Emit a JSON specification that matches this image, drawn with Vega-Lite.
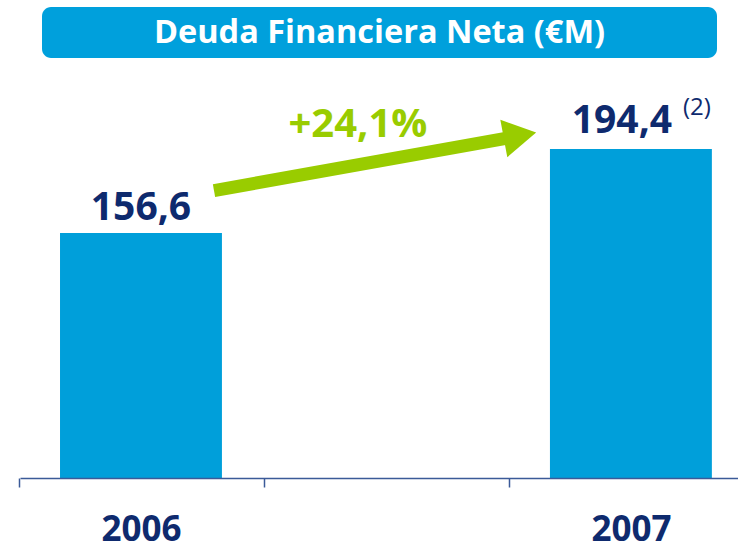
{
  "$schema": "https://vega.github.io/schema/vega-lite/v6.json",
  "padding": {"left": 18, "top": 7, "right": 0, "bottom": 0},
  "background": "white",
  "config": {"font": "Open Sans", "view": {"stroke": null}},
  "columns": 1,
  "spacing": 12,
  "concat": [
    {
      "spacing": 0,
      "hconcat": [
        {
          "width": 22,
          "height": 51,
          "data": {"values": [{}]},
          "mark": {"type": "text", "text": ""},
          "encoding": {}
        },
        {
          "width": 675,
          "height": 51,
          "view": {"fill": "#00A0DC", "stroke": null, "cornerRadius": 9},
          "data": {"values": [{"title": "Deuda Financiera Neta (€M)"}]},
          "mark": {"type": "text", "color": "white", "fontSize": 32.5, "fontWeight": "bold", "baseline": "middle", "align": "center"},
          "encoding": {
            "text": {"field": "title"}
          }
        }
      ]
    },
    {
      "width": 718,
      "height": 408,
      "data": {
        "values": [
          {"year": "2006", "value": 156.6, "label": "156,6", "note": ""},
          {"year": "2007", "value": 194.4, "label": "194,4", "note": "(2)"}
        ]
      },
      "layer": [
        {
          "mark": {"type": "bar", "color": "#009FDA", "clip": true},
          "encoding": {
            "x": {
              "field": "year",
              "type": "nominal",
              "scale": {"domain": ["2006", " ", "2007"], "paddingInner": 0.339, "paddingOuter": 0.135, "align": 0.605},
              "axis": {
                "title": null,
                "labelAngle": 0,
                "labelFontSize": 35,
                "labelFontWeight": "bold",
                "labelColor": "#0E2A6E",
                "labelPadding": 25,
                "tickOffset": -121.5,
                "labelOffset": 121.5,
                "tickSize": 9,
                "tickColor": "#3B5A98",
                "domainColor": "#3B5A98",
                "domainWidth": 1.5,
                "tickWidth": 1.5,
                "grid": false,
                "zindex": 1
              }
            },
            "y": {"field": "value", "type": "quantitative", "scale": {"domain": [46.35, 230], "zero": false, "nice": false}, "axis": null}
          }
        },
        {
          "transform": [{"filter": {"field": "year", "equal": "2006"}}],
          "mark": {"type": "text", "color": "#0E2A6E", "fontSize": 39, "fontWeight": "bold", "baseline": "alphabetic", "align": "center", "dy": -13},
          "encoding": {
            "x": {"field": "year", "type": "nominal"},
            "y": {"field": "value", "type": "quantitative"},
            "text": {"field": "label"}
          }
        },
        {
          "transform": [{"filter": {"field": "year", "equal": "2007"}}],
          "mark": {"type": "text", "color": "#0E2A6E", "fontSize": 39, "fontWeight": "bold", "baseline": "alphabetic", "align": "center", "dy": -16, "dx": -9},
          "encoding": {
            "x": {"field": "year", "type": "nominal"},
            "y": {"field": "value", "type": "quantitative"},
            "text": {"field": "label"}
          }
        },
        {
          "transform": [{"filter": {"field": "year", "equal": "2007"}}],
          "mark": {"type": "text", "color": "#0E2A6E", "fontSize": 24, "fontWeight": "normal", "baseline": "alphabetic", "align": "left", "dy": -34, "dx": 52},
          "encoding": {
            "x": {"field": "year", "type": "nominal"},
            "y": {"field": "value", "type": "quantitative"},
            "text": {"field": "note"}
          }
        },
        {
          "data": {"values": [{"change": "+24,1%"}]},
          "layer": [
            {
              "mark": {"type": "rule", "color": "#99CC00", "strokeWidth": 13, "strokeCap": "butt"},
              "encoding": {
                "x": {"datum": "2006", "type": "nominal", "bandPosition": 0.951},
                "x2": {"datum": "2007", "bandPosition": -0.205},
                "y": {"datum": 175.7, "type": "quantitative"},
                "y2": {"datum": 200.1}
              }
            },
            {
              "mark": {"type": "point", "shape": "triangle-right", "size": 1444, "angle": 349.5, "filled": true, "opacity": 1, "color": "#99CC00", "strokeWidth": 0},
              "encoding": {
                "x": {"datum": "2007", "type": "nominal", "bandPosition": -0.185},
                "y": {"datum": 200.5, "type": "quantitative"}
              }
            },
            {
              "mark": {"type": "text", "color": "#99CC00", "fontSize": 40, "fontWeight": "bold", "baseline": "alphabetic", "align": "center"},
              "encoding": {
                "x": {"datum": " ", "type": "nominal", "bandPosition": 0.327},
                "y": {"datum": 199.8, "type": "quantitative"},
                "text": {"field": "change"}
              }
            }
          ]
        }
      ]
    }
  ]
}
